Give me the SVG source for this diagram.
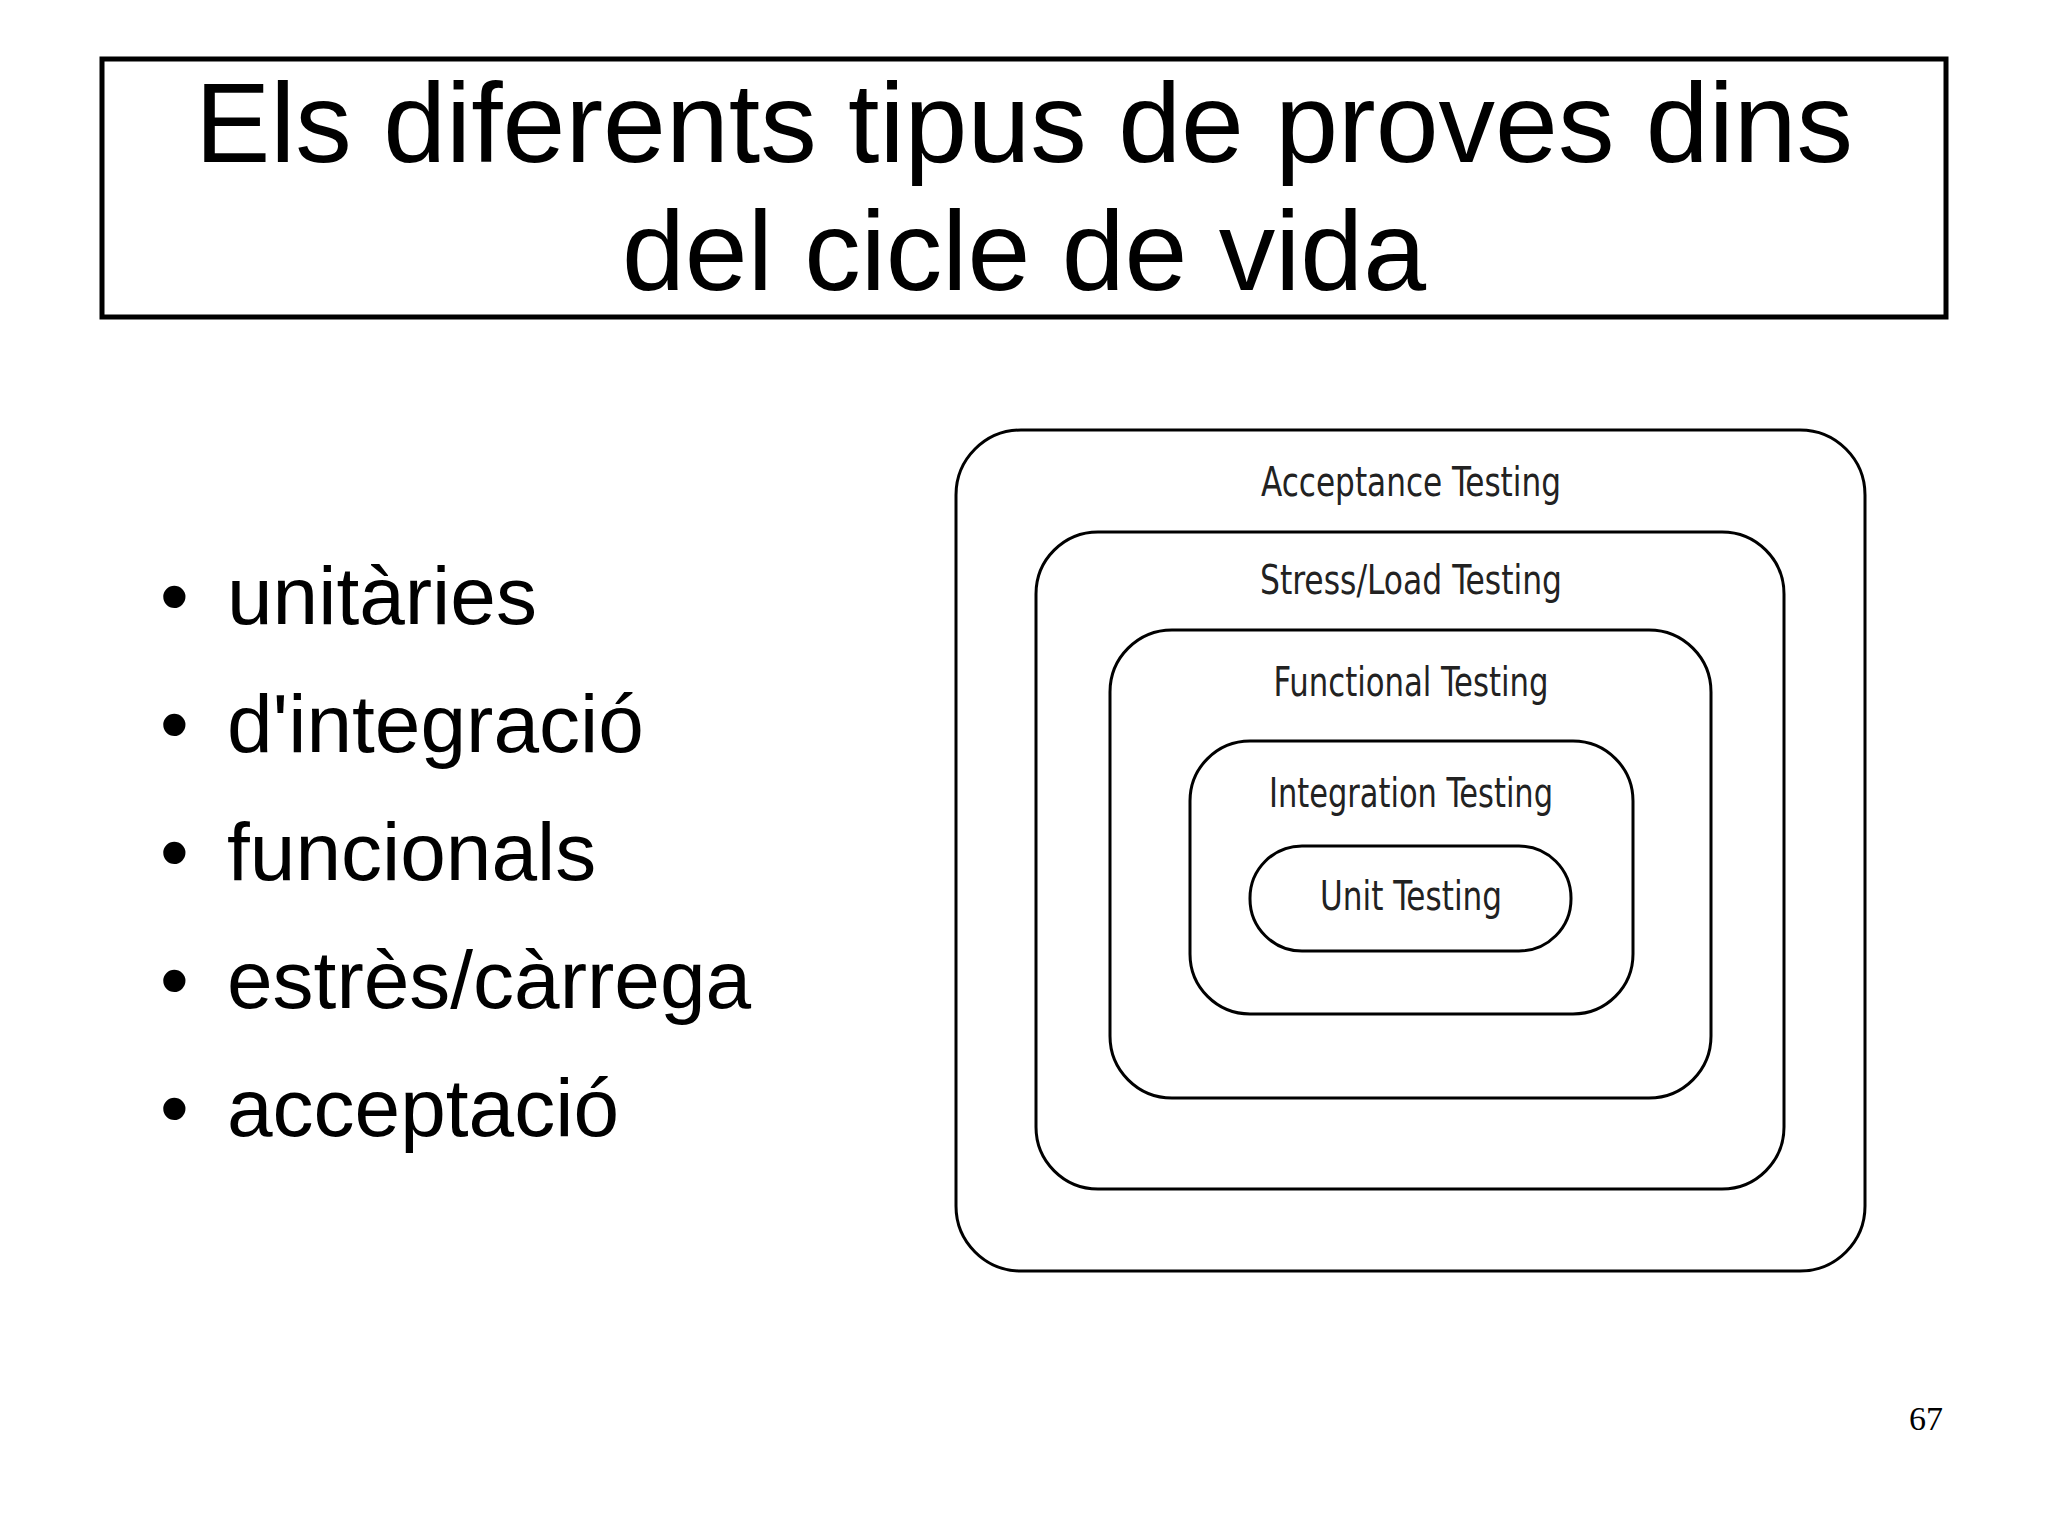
<svg xmlns="http://www.w3.org/2000/svg" width="2048" height="1535" viewBox="0 0 2048 1535">
<style>
.t{font-family:"Liberation Sans",Arial,sans-serif;fill:#000}
.b{font-family:"Liberation Sans",Arial,sans-serif;font-size:82px}
.l{font-family:"Liberation Sans Narrow","DejaVu Sans Condensed","Liberation Sans",sans-serif;font-size:40px;text-anchor:middle;fill:#222}
.r{fill:none;stroke:#000;stroke-width:3}
</style>
<rect width="2048" height="1535" fill="#fff"/>
<g id="title">
<rect x="102" y="59" width="1844" height="258" fill="none" stroke="#000" stroke-width="5"/>
<text class="t" x="1024" y="162" font-size="113" text-anchor="middle">Els diferents tipus de proves dins</text>
<text class="t" x="1024" y="290" font-size="113" text-anchor="middle">del cicle de vida</text>
</g>
<g id="bullets" class="b">
<text x="160" y="624">•</text><text x="227" y="624">unitàries</text>
<text x="160" y="752">•</text><text x="227" y="752">d'integració</text>
<text x="160" y="880">•</text><text x="227" y="880">funcionals</text>
<text x="160" y="1008">•</text><text x="227" y="1008">estrès/càrrega</text>
<text x="160" y="1136">•</text><text x="227" y="1136">acceptació</text>
</g>
<g id="acceptance"><rect class="r" x="956" y="430" width="909" height="841" rx="65"/><text class="l" x="1411" y="496" textLength="300" lengthAdjust="spacingAndGlyphs">Acceptance Testing</text></g>
<g id="stress"><rect class="r" x="1036" y="532" width="748" height="657" rx="62"/><text class="l" x="1411" y="594" textLength="302" lengthAdjust="spacingAndGlyphs">Stress/Load Testing</text></g>
<g id="functional"><rect class="r" x="1110" y="630" width="601" height="468" rx="62"/><text class="l" x="1411" y="696" textLength="275" lengthAdjust="spacingAndGlyphs">Functional Testing</text></g>
<g id="integration"><rect class="r" x="1190" y="741" width="443" height="273" rx="60"/><text class="l" x="1411" y="807" textLength="284" lengthAdjust="spacingAndGlyphs">Integration Testing</text></g>
<g id="unit"><rect class="r" x="1250" y="846" width="321" height="105" rx="52"/><text class="l" x="1411" y="910" textLength="182" lengthAdjust="spacingAndGlyphs">Unit Testing</text></g>
<g id="connectors"/>
<text x="1926" y="1430" font-family="Liberation Serif,serif" font-size="34" text-anchor="middle">67</text>
</svg>
